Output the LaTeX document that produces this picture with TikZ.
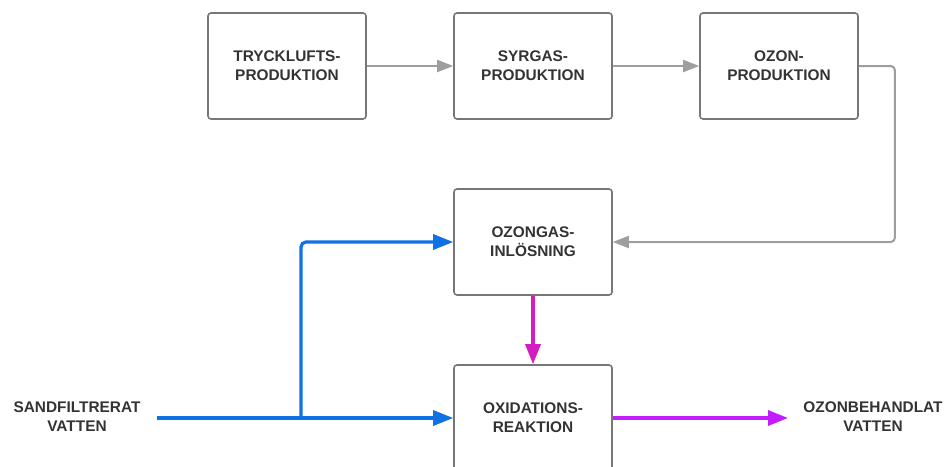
\documentclass[tikz,border=0pt]{standalone}
\usepackage{fontspec}
\setmainfont{Liberation Sans}
\usepackage{xcolor}
\usepackage{tikz}
\usetikzlibrary{calc}
\usetikzlibrary{arrows.meta}
\usetikzlibrary{positioning}
\definecolor{boxgray}{HTML}{777777}
\definecolor{linegray}{HTML}{9E9E9E}
\definecolor{txtgray}{HTML}{333333}
\definecolor{flowblue}{HTML}{1071E5}
\definecolor{flowmag}{HTML}{D41CC0}
\definecolor{flowpurp}{HTML}{C21DFF}
\tikzset{
 proc/.style={draw=boxgray, line width=1.6pt, rounded corners=3pt, minimum width=158pt, minimum height=106pt, align=center, text=txtgray, font=\fontsize{15.4}{19}\selectfont\bfseries},
 lbl/.style={align=center, text=txtgray, font=\fontsize{15.4}{19}\selectfont\bfseries},
 gline/.style={draw=linegray, line width=2pt, rounded corners=4pt, -{Triangle[length=16pt,width=12pt]}},
 bline/.style={draw=flowblue, line width=3.2pt, rounded corners=5pt, -{Triangle[length=20pt,width=15pt]}},
}

\begin{document}
\begin{tikzpicture} [x=1pt, y=-1pt]
\useasboundingbox (0,0) rectangle (947,466);

\node[proc] (tryck) at (287,66) {TRYCKLUFTS-\\PRODUKTION};
\node[proc, right=86.4pt of tryck] (syrgas) {SYRGAS-\\PRODUKTION};
\node[proc, right=86.4pt of syrgas] (ozon) {OZON-\\PRODUKTION};
\node[proc] (inlos) at (533,242) {OZONGAS-\\INLÖSNING};
\node[proc] (oxid) at (533,418) {OXIDATIONS-\\REAKTION};

\node[lbl] (sand) at (77,417) {SANDFILTRERAT\\VATTEN};
\node[lbl] (ozbeh) at (873,417) {OZONBEHANDLAT\\VATTEN};

\coordinate (sandend) at (157,418);
\coordinate (branch) at (301,418);
\coordinate (ozbehend) at (788,418);

% gas chain
\draw[gline] (tryck) -- (syrgas);
\draw[gline] (syrgas) -- (ozon);
\draw[gline] (ozon.east) -- ++(36,0) |- (inlos.east);

% water
\draw[bline] (sandend) -- (oxid.west);
\draw[bline] (branch) |- (inlos.west);
\draw[draw=flowmag, line width=3.2pt, -{Triangle[length=20pt,width=15pt]}] (inlos) -- (oxid);
\draw[draw=flowpurp, line width=3.2pt, -{Triangle[length=20pt,width=15pt]}] (oxid) -- (ozbehend);
\end{tikzpicture}
\end{document}
